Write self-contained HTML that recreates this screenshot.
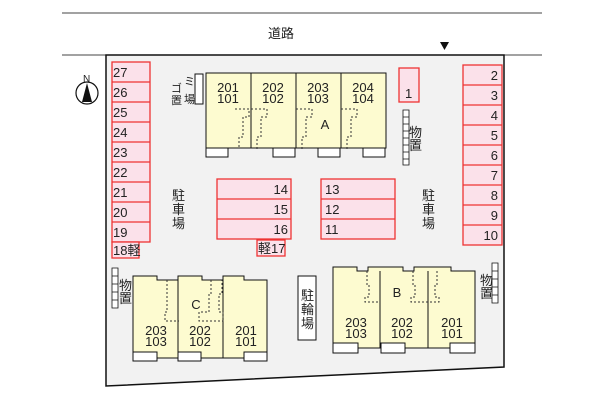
<!DOCTYPE html><html><head><style>body{margin:0;background:#fff}svg{display:block}text{font-family:"Liberation Sans","Noto Sans CJK JP",sans-serif;font-size:13px;fill:#222}</style></head><body>
<svg width="600" height="400" xmlns="http://www.w3.org/2000/svg">
<line x1="62" y1="13" x2="542" y2="13" stroke="#444"/>
<line x1="62" y1="55" x2="542" y2="55" stroke="#444"/>
<text x="268" y="38">道路</text>
<path d="M440 42h9l-4.5 8z" fill="#111"/>
<path d="M106 55H504V367L106 386Z" fill="#f2f2f2" stroke="#111" stroke-width="1.5"/>
<circle cx="87" cy="93" r="11" fill="#fff" stroke="#111" stroke-width="1.2"/><path d="M87 83L82 102H92Z" fill="#111"/><text x="83" y="82" style="font-size:10px">N</text>
<g fill="#fbe1ea" stroke="#e33" stroke-width="1.3">
<rect x="112" y="62" width="38" height="180"/><rect x="112" y="242" width="27" height="16"/>
<rect x="463" y="65" width="39" height="180"/><rect x="399" y="68" width="20" height="34"/>
<rect x="217" y="179" width="74" height="60"/><rect x="321" y="179" width="74" height="60"/><rect x="257" y="240" width="28" height="16"/>
</g>
<g stroke="#e33" stroke-width="1.3"><path d="M112 82h38M112 102h38M112 122h38M112 142h38M112 162h38M112 182h38M112 202h38M112 222h38"/>
<path d="M463 85h39M463 105h39M463 125h39M463 145h39M463 165h39M463 185h39M463 205h39M463 225h39"/>
<path d="M217 199h74M217 219h74M321 199h74M321 219h74"/></g>
<g style="font-size:13px"><text x="113" y="77">27</text><text x="113" y="97">26</text><text x="113" y="117">25</text><text x="113" y="137">24</text><text x="113" y="157">23</text><text x="113" y="177">22</text><text x="113" y="197">21</text><text x="113" y="217">20</text><text x="113" y="237">19</text><text x="113" y="255">18軽</text>
<g text-anchor="end"><text x="498" y="80">2</text><text x="498" y="100">3</text><text x="498" y="120">4</text><text x="498" y="140">5</text><text x="498" y="160">6</text><text x="498" y="180">7</text><text x="498" y="200">8</text><text x="498" y="220">9</text><text x="498" y="240">10</text>
<text x="288" y="194">14</text><text x="288" y="214">15</text><text x="288" y="234">16</text></g>
<text x="325" y="194">13</text><text x="325" y="214">12</text><text x="325" y="234">11</text><text x="258" y="253">軽17</text><text x="405" y="98">1</text></g>
<!-- Building A -->
<rect x="206" y="73" width="180" height="75" fill="#fdfbd0" stroke="#111"/>
<path d="M251 73v75M296 73v75M341 73v75" stroke="#111"/>
<g fill="#fff" stroke="#111"><rect x="206" y="148" width="22" height="9"/><rect x="273" y="148" width="22" height="9"/><rect x="318" y="148" width="22" height="9"/><rect x="363" y="148" width="22" height="9"/>
<rect x="195" y="74" width="8" height="30"/><rect x="298" y="276" width="18" height="64"/></g>
<g stroke="#333" fill="none" stroke-dasharray="2,2"><path d="M235 109h14v8h-6v20h-4v12M251 109h16v8h-6v20h-4v12M296 109h16v8h-6v20h-4v12M341 109h16v8h-6v20h-4v12"/></g>
<g text-anchor="middle"><text x="228" y="92">201</text><text x="228" y="103">101</text><text x="273" y="92">202</text><text x="273" y="103">102</text><text x="318" y="92">203</text><text x="318" y="103">103</text><text x="363" y="92">204</text><text x="363" y="103">104</text><text x="325" y="129">A</text></g>
<text x="171" y="92" style="font-size:11px">ゴ</text><text x="171" y="104" style="font-size:11px">置</text><text x="184" y="85" style="font-size:11px">ミ</text><text x="184" y="103" style="font-size:11px">場</text>
<!-- B -->
<path d="M333 267H357V271H368V267H403V271H414V267H451V271H475V348H333Z" fill="#fdfbd0" stroke="#111"/>
<path d="M380 271v77M428 271v77" stroke="#111"/>
<g stroke="#333" fill="none" stroke-dasharray="2,2"><path d="M367 271v14h2v12h-4v5h14M413 271v14h2v12h-4v5h28v-5h-4v-12h2v-14"/></g>
<g style="font-size:12px"><text x="172" y="200">駐</text><text x="172" y="214">車</text><text x="172" y="228">場</text><text x="422" y="200">駐</text><text x="422" y="214">車</text><text x="422" y="228">場</text>
<text x="301" y="300">駐</text><text x="301" y="314">輪</text><text x="301" y="328">場</text>
<text x="409" y="137">物</text><text x="409" y="150">置</text><text x="119" y="290">物</text><text x="119" y="303">置</text><text x="480" y="285">物</text><text x="480" y="298">置</text></g>
<g fill="#fff" stroke="#111" stroke-width=".8">
<path d="M403 110h6v55h-6zM403 117h6M403 124h6M403 131h6M403 138h6M403 145h6M403 152h6M403 159h6"/>
<path d="M112 268h6v40h-6zM112 276h6M112 284h6M112 292h6M112 300h6"/>
<path d="M492 263h6v40h-6zM492 271h6M492 279h6M492 287h6M492 295h6"/></g>
<!-- C -->
<path d="M133 276H157V280H178V276H202V280H223V276H244V280H267V358H133Z" fill="#fdfbd0" stroke="#111"/>
<path d="M178 276v82M223 276v82" stroke="#111"/>
<g fill="#fff" stroke="#111"><rect x="133" y="352" width="24" height="9"/><rect x="178" y="352" width="23" height="9"/><rect x="244" y="352" width="23" height="9"/>
<rect x="333" y="343" width="25" height="10"/><rect x="381" y="343" width="24" height="10"/><rect x="450" y="343" width="25" height="10"/></g>
<g stroke="#333" fill="none" stroke-dasharray="2,2"><path d="M167 280v32h-2v9h14M211 280v14h-2v18h-10v9h24v-9h-4v-18h3v-14"/></g>
<g text-anchor="middle"><text x="156" y="335">203</text><text x="156" y="346">103</text><text x="200" y="335">202</text><text x="200" y="346">102</text><text x="246" y="335">201</text><text x="246" y="346">101</text><text x="196" y="309">C</text>
<text x="356" y="327">203</text><text x="356" y="338">103</text><text x="402" y="327">202</text><text x="402" y="338">102</text><text x="452" y="327">201</text><text x="452" y="338">101</text><text x="397" y="297">B</text></g>
</svg></body></html>
